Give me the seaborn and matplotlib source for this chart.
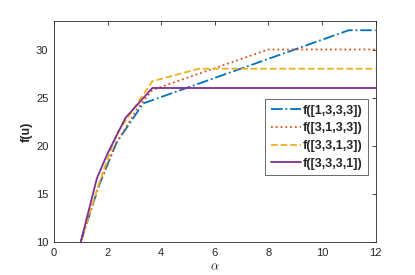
import numpy as np
import pandas as pd
import matplotlib
matplotlib.use("Agg")
import matplotlib.pyplot as plt
import seaborn as sns

# series (alpha, f(u))
labels = ["f([1,3,3,3])", "f([3,1,3,3])", "f([3,3,1,3])", "f([3,3,3,1])"]
x_blue = [1, 1.67, 2.33, 3.33, 11, 12]
y_blue = [10, 15.8, 20.3, 24.4, 32, 32]
x_red = [1, 1.67, 2.33, 3.1, 3.67, 8, 12]
y_red = [10, 15.8, 20.3, 23.8, 25.8, 30, 30]
x_yel = [1, 1.67, 2.33, 3.67, 5.4, 12]
y_yel = [10, 16.0, 21.2, 26.7, 28, 28]
x_pur = [1, 1.6, 2.0, 2.67, 3.67, 12]
y_pur = [10, 16.6, 19.2, 22.9, 26, 26]

colors = ["#0072BD", "#D95319", "#EDB120", "#7E2F8E"]
styles = ["-.", ":", "--", "-"]
xs = [x_blue, x_red, x_yel, x_pur]
ys = [y_blue, y_red, y_yel, y_pur]

sns.set_theme(style="white")
plt.rcParams['font.family'] = ['Liberation Sans', 'DejaVu Sans']
plt.rcParams['mathtext.fontset'] = 'cm'

fig = plt.figure(figsize=(4.15, 2.75), dpi=100)
ax = fig.add_axes([0.130, 0.12, 0.775, 0.805])

for x, y, c, ls, lab in zip(xs, ys, colors, styles, labels):
    df = pd.DataFrame({"alpha": x, "f": y})
    sns.lineplot(data=df, x="alpha", y="f", ax=ax, color=c, linestyle=ls,
                 linewidth=1.3, label=lab, sort=False)

ax.set_xlim(0, 12)
ax.set_ylim(10, 33)
ax.set_xticks(np.arange(0, 13, 2))
ax.set_yticks([10, 15, 20, 25, 30])
ax.tick_params(direction="in", top=True, right=True, length=3, width=0.6,
               labelsize=8, colors="#262626", pad=4)
for s in ax.spines.values():
    s.set_color("#262626")
    s.set_linewidth(0.6)

ax.set_xlabel(r"$\alpha$", fontsize=9, color="#262626", labelpad=3)
ax.set_ylabel("f(u)", fontsize=9, fontweight="bold", color="#262626", labelpad=2)

leg = ax.legend(loc="upper left", bbox_to_anchor=(0.656, 0.645), fontsize=9,
                frameon=True, fancybox=False, borderpad=0.45, handlelength=2.4,
                labelspacing=0.45, handletextpad=0.2, borderaxespad=0)
leg.get_frame().set_edgecolor("#262626")
leg.get_frame().set_linewidth(0.6)
for t in leg.get_texts():
    t.set_fontweight("bold")

fig.savefig("out.png", dpi=100)
